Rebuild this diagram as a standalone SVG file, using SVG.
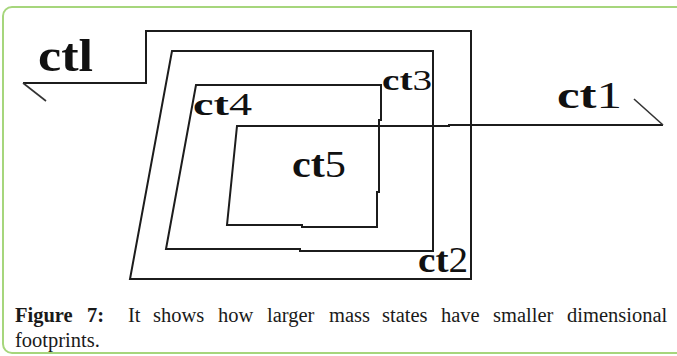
<svg xmlns="http://www.w3.org/2000/svg" width="677" height="356" viewBox="0 0 677 356">
<style>
.ln{fill:none;stroke:#1c1c1c;stroke-width:2;stroke-linejoin:miter}
.hk{fill:none;stroke:#333;stroke-width:1.6}
.lb{font-family:"Liberation Serif","Times New Roman",serif;fill:#111}
.b{font-weight:bold}
.cap{font-family:"Liberation Serif","Times New Roman",serif;font-size:20.5px;fill:#1a1a1a}
</style>
<rect x="3" y="7" width="700" height="346" rx="9" ry="9" fill="#fff" stroke="#a6d67c" stroke-width="2"/>
<g id="connectors">
<path class="ln" d="M23,83 H146 V31 H471 V279 H130 L172,51 H433 V251 H300 V249 H166 L196,85 H381 V120 H379 V192 H377 V227 H302 V225 H227 L237,126 H449 V125 H663"/>
<path class="hk" d="M23,83 L46,101"/>
<path class="hk" d="M663,125 L634,99"/>
</g>
<g id="ctl"><text class="lb b" x="38" y="71" font-size="46" textLength="55" lengthAdjust="spacingAndGlyphs">ctl</text></g>
<g id="ct4"><text class="lb" x="193" y="115" font-size="32" textLength="59" lengthAdjust="spacingAndGlyphs"><tspan class="b">ct</tspan>4</text></g>
<g id="ct3"><text class="lb" x="382" y="90" font-size="30" textLength="50" lengthAdjust="spacingAndGlyphs"><tspan class="b">ct</tspan>3</text></g>
<g id="ct1"><text class="lb" x="557" y="108" font-size="37" textLength="65" lengthAdjust="spacingAndGlyphs"><tspan class="b">ct</tspan>1</text></g>
<g id="ct5"><text class="lb" x="292" y="177" font-size="37" textLength="54" lengthAdjust="spacingAndGlyphs"><tspan class="b">ct</tspan>5</text></g>
<g id="ct2"><text class="lb" x="418" y="272" font-size="36" textLength="50" lengthAdjust="spacingAndGlyphs"><tspan class="b">ct</tspan>2</text></g>
<g id="caption">
<text class="cap" y="322"><tspan x="15" font-weight="bold">Figure</tspan><tspan x="87" font-weight="bold">7:</tspan><tspan x="128">It</tspan><tspan x="153">shows</tspan><tspan x="218">how</tspan><tspan x="267">larger</tspan><tspan x="329">mass</tspan><tspan x="382">states</tspan><tspan x="441">have</tspan><tspan x="493">smaller</tspan><tspan x="567">dimensional</tspan></text>
<text class="cap" x="15" y="347">footprints.</text>
</g>
</svg>
